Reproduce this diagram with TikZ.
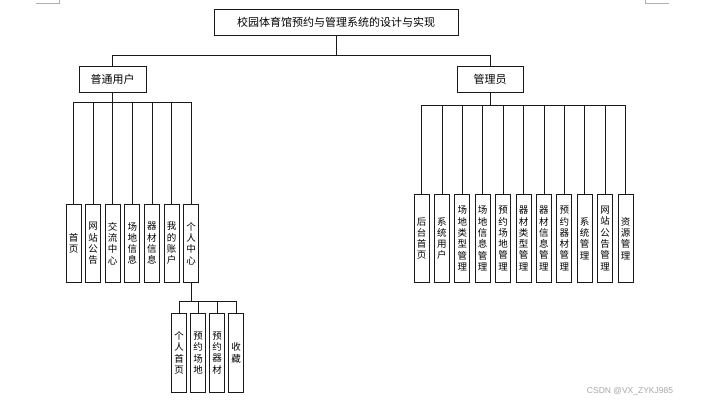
\documentclass[tikz,border=0pt]{standalone}
\usepackage{fontspec}
\newfontfamily\cjk{Noto Sans CJK SC}
\newfontfamily\wmfont{Liberation Sans}
\usepackage{xcolor}
\definecolor{cLine}{HTML}{1A1A1A}
\definecolor{cMark}{HTML}{B0B0B0}
\definecolor{cWater}{HTML}{A6A6A6}
\usepackage{tikz}
\usetikzlibrary{positioning}
\tikzset{
  node-box/.style={draw=cLine,line width=0.8pt,minimum height=26pt,
    inner sep=0pt,align=center,font=\cjk\fontsize{11}{12}\selectfont},
  node-leaf/.style={draw=cLine,line width=0.8pt,minimum width=15pt,
    inner sep=0pt,align=center,font=\cjk\fontsize{9.5}{11.3}\selectfont},
  node-user/.style={node-leaf,minimum height=78pt},
  node-admin/.style={node-leaf,minimum height=88pt},
  node-sub/.style={node-leaf,minimum height=79pt},
  link/.style={draw=cLine,line width=0.8pt},
  % 页角标记 / 水印
  page-mark/.style={draw=cMark,line width=0.6pt},
}

\begin{document}
\begin{tikzpicture}[x=1pt,y=-1pt]
  \useasboundingbox (0,0) rectangle (705,405);
  \draw[page-mark] (36,3) -- (59,3) -- (59,0);
  \draw[page-mark] (645,0) -- (645,3) -- (669,3);

  \node[node-box,minimum width=244pt] (title) at (336,22) {校园体育馆预约与管理系统的设计与实现};
  \node[node-box,minimum width=67pt] (user) at (112.5,79) {普通用户};
  \node[node-box,minimum width=66pt] (admin) at (490,79) {管理员};
  \draw[link] (title.south) -- ++(0,20) -| (user.north);
  \draw[link] (title.south) -- ++(0,20) -| (admin.north);

  % 普通用户
  \node[node-user,anchor=north] (u1) at (73.5,204) {首\\页};
  \node[node-user,right=3.8pt of u1] (u2) {网\\站\\公\\告};
  \node[node-user,right=3.8pt of u2] (u3) {交\\流\\中\\心};
  \node[node-user,right=3.8pt of u3] (u4) {场\\地\\信\\息};
  \node[node-user,right=3.8pt of u4] (u5) {器\\材\\信\\息};
  \node[node-user,right=3.8pt of u5] (u6) {我\\的\\账\\户};
  \node[node-user,right=3.8pt of u6] (u7) {个\\人\\中\\心};
  \foreach \k in {1,...,7}
    \draw[link] (user.south) -- ++(0,10) -| (u\k.north);

  % 个人中心
  \node[node-sub,anchor=north] (s1) at (179,313) {个\\人\\首\\页};
  \node[node-sub,right=3.2pt of s1] (s2) {预\\约\\场\\地};
  \node[node-sub,right=3.2pt of s2] (s3) {预\\约\\器\\材};
  \node[node-sub,right=3.2pt of s3] (s4) {收\\藏};
  \foreach \k in {1,...,4}
    \draw[link] (u7.south) -- ++(0,19) -| (s\k.north);

  % 管理员
  \node[node-admin,anchor=north] (a1) at (421.5,194) {后\\台\\首\\页};
  \node[node-admin,right=4.6pt of a1] (a2) {系\\统\\用\\户};
  \node[node-admin,right=4.6pt of a2] (a3) {场\\地\\类\\型\\管\\理};
  \node[node-admin,right=4.6pt of a3] (a4) {场\\地\\信\\息\\管\\理};
  \node[node-admin,right=4.6pt of a4] (a5) {预\\约\\场\\地\\管\\理};
  \node[node-admin,right=4.6pt of a5] (a6) {器\\材\\类\\型\\管\\理};
  \node[node-admin,right=4.6pt of a6] (a7) {器\\材\\信\\息\\管\\理};
  \node[node-admin,right=4.6pt of a7] (a8) {预\\约\\器\\材\\管\\理};
  \node[node-admin,right=4.6pt of a8] (a9) {系\\统\\管\\理};
  \node[node-admin,right=4.6pt of a9] (a10) {网\\站\\公\\告\\管\\理};
  \node[node-admin,right=4.6pt of a10] (a11) {资\\源\\管\\理};
  \foreach \k in {1,...,11}
    \draw[link] (admin.south) -- ++(0,13) -| (a\k.north);

  \node[text=cWater,font=\wmfont\fontsize{8.5}{10}\selectfont] (wm) at (630,391) {CSDN @VX\_ZYKJ985};
\end{tikzpicture}
\end{document}
